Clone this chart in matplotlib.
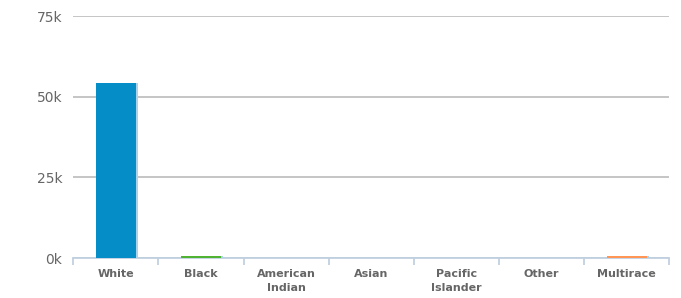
import numpy as np
import matplotlib.pyplot as plt
import matplotlib.patheffects as pe
from matplotlib.ticker import FixedLocator, FuncFormatter

# Population by race
categories = ['White', 'Black', 'American\nIndian', 'Asian', 'Pacific\nIslander', 'Other', 'Multirace']
values = [54100, 700, 40, 60, 0, 20, 700]
colors = ['#058dc7', '#50b432', '#ed561b', '#dddf00', '#24cbe5', '#64e572', '#ff9655']
y_ticks = [0, 25000, 50000, 75000]

fig = plt.figure(figsize=(6.81, 2.98), dpi=100)
ax = fig.add_axes([73.3 / 681, 1 - 258 / 298, 596 / 681, 242 / 298])

x = np.arange(len(categories))
bars = ax.bar(x, values, width=0.47, color=colors, zorder=5)
# light stripe on the right of the bars
for b in bars:
    b.set_path_effects([pe.SimplePatchShadow(offset=(1.3, 0), shadow_rgbFace='#a9d3ec', alpha=1),
                        pe.Normal()])

ax.set_xlim(-0.5, len(categories) - 0.5)
ax.set_ylim(0, 75000)

# gridlines
ax.set_yticks(y_ticks)
ax.yaxis.set_major_formatter(FuncFormatter(lambda v, p: f'{int(v / 1000)}k'))
ax.grid(axis='y', color='#c0c0c0', linewidth=1.3, zorder=0)
ax.tick_params(axis='y', length=0, pad=8, labelsize=10, labelcolor='#666666')

# x axis
ax.set_xticks(x)
ax.set_xticklabels(categories, fontsize=8, fontweight='bold', color='#666666', linespacing=1.45)
ax.xaxis.set_minor_locator(FixedLocator(np.arange(-0.5, len(categories), 1.0)))
ax.tick_params(axis='x', which='major', length=0, pad=8)
ax.tick_params(axis='x', which='minor', length=5, width=1.3, color='#c0d0e0')

for s in ['top', 'right', 'left']:
    ax.spines[s].set_visible(False)
ax.spines['bottom'].set_color('#c0d0e0')
ax.spines['bottom'].set_linewidth(1.3)
ax.spines['bottom'].set_zorder(4)

fig.savefig('out.png', dpi=100)
